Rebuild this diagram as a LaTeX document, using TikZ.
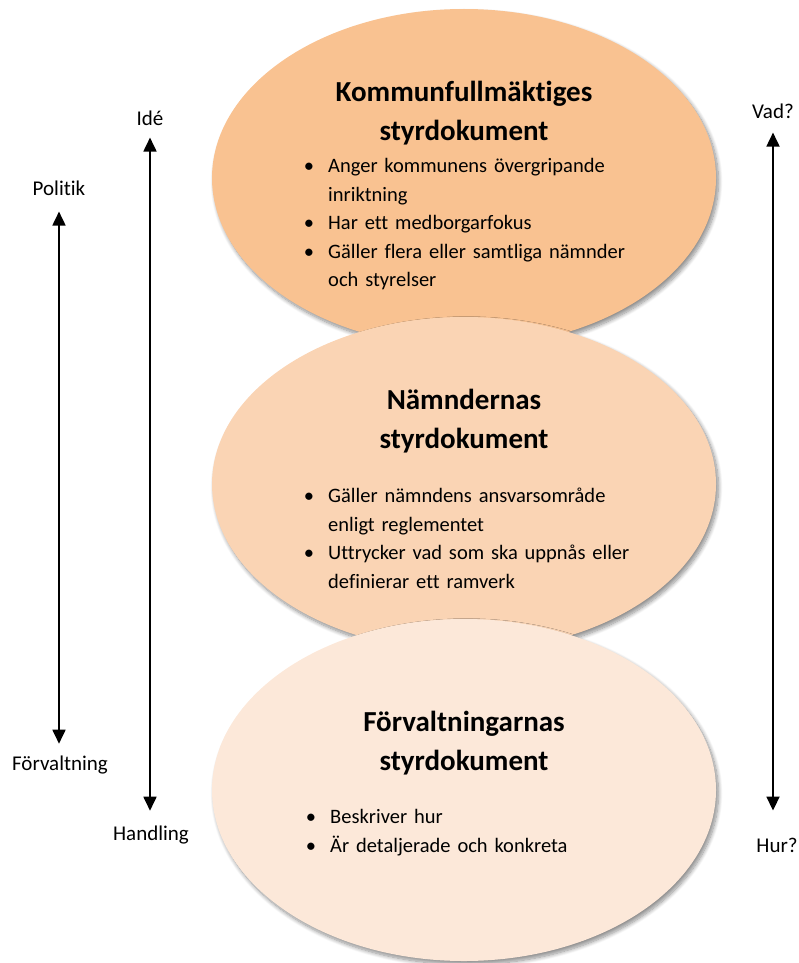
\documentclass[tikz,border=0pt]{standalone}
\usepackage{fontspec}
\setmainfont{Carlito}[Ligatures={NoCommon,NoRequired,NoContextual}]
\usepackage{enumitem}
\usetikzlibrary{arrows.meta,shadows.blur,shapes.geometric}
\definecolor{ellA}{HTML}{F9C291}
\definecolor{ellB}{HTML}{FAD4B4}
\definecolor{ellC}{HTML}{FCE8D9}
\tikzset{
  ell/.style={ellipse, minimum width=504pt, minimum height=338pt, inner sep=0pt,
    blur shadow={shadow xshift=2.5pt, shadow yshift=-3.5pt, shadow blur steps=10, shadow opacity=45, shadow blur radius=4pt}},
  ttl/.style={align=center, inner sep=0pt, font=\fontsize{29}{39}\selectfont\bfseries},
  lst/.style={anchor=north west, inner sep=0pt, text width=360pt, font=\fontsize{20.5}{28.5}\selectfont},
  lbl/.style={inner sep=0pt, font=\fontsize{21}{25}\selectfont},
  arr/.style={{Triangle[width=13pt,length=14pt]}-{Triangle[width=13pt,length=14pt]}, line width=1.8pt},
}
\newcommand{\blist}[1]{\begin{itemize}[leftmargin=22pt,labelsep=14pt,itemsep=0pt,topsep=0pt,parsep=0pt,partopsep=0pt,label=\textbullet]#1\end{itemize}}
\begin{document}
\begin{tikzpicture}[x=1pt,y=-1pt]
\useasboundingbox (0,0) rectangle (799,963);
% ellipses
\node[ell, fill=ellA] (e1) at (464,178) {};
\node[ell, fill=ellB, minimum height=334pt] (e2) at (464,484) {};
\node[ell, fill=ellC, minimum height=342pt] (e3) at (464,790) {};
% titles
\node[ttl] (t1) at (464,113) {Kommunfullmäktiges\\styrdokument};
\node[ttl] (t2) at (464,421) {Nämndernas\\styrdokument};
\node[ttl] (t3) at (464,743) {Förvaltningarnas\\styrdokument};
% bullet lists
\node[lst] (b1) at (306,143.8) {\blist{\item Anger kommunens övergripande\newline inriktning
  \item Har ett medborgarfokus
  \item Gäller flera eller samtliga nämnder\newline och styrelser}};
\node[lst] (b2) at (306,473.8) {\blist{\item Gäller nämndens ansvarsområde\newline enligt reglementet
  \item Uttrycker vad som ska uppnås eller\newline definierar ett ramverk}};
\node[lst] (b3) at (308,794.8) {\blist{\item Beskriver hur
  \item Är detaljerade och konkreta}};
% side labels
\node[lbl] (pol) at (59,188) {Politik};
\node[lbl] (forv) at (60,765) {Förvaltning};
\node[lbl] (ide) at (150,118) {Idé};
\node[lbl] (hand) at (151,835) {Handling};
\node[lbl] (vad) at (773,111) {Vad?};
\node[lbl] (hur) at (777,845) {Hur?};
% arrows
\draw[arr] ([yshift=-16pt]pol.south) -- ([yshift=12pt]forv.north -| pol.south);
\draw[arr] ([yshift=-12pt]ide.south) -- ([yshift=15pt]hand.north -| ide.south);
\draw[arr] ([yshift=-14pt]vad.south) -- ([yshift=27pt]hur.north -| vad.south);
\end{tikzpicture}
\end{document}
